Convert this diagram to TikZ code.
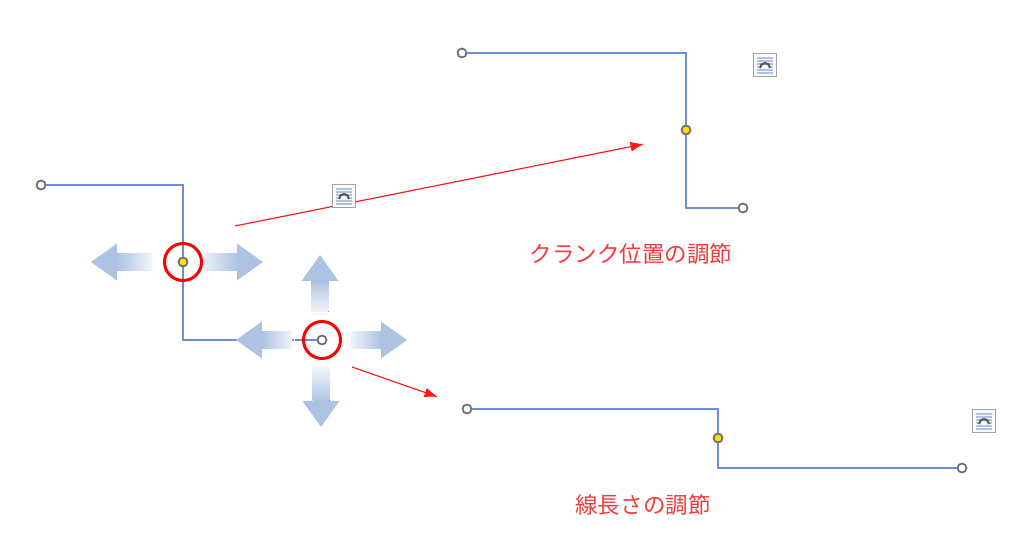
\documentclass[tikz,border=0pt]{standalone}
\usepackage{fontspec}
\setmainfont{Noto Sans CJK JP}
\usetikzlibrary{arrows.meta}
\definecolor{wireblue}{HTML}{6A8FD3}
\definecolor{fadeblue}{HTML}{AEC3E4}
\definecolor{handlegray}{HTML}{6E6E6E}
\definecolor{handleyellow}{HTML}{FFE000}
\definecolor{notered}{HTML}{F23B3B}
\tikzset{
	wire/.style={wireblue, line width=0.75pt},
	endhandle/.style={circle, draw=handlegray, fill=white, line width=0.5pt, inner sep=0pt, minimum size=0.09cm},
	midhandle/.style={endhandle, fill=handleyellow},
	mark ring/.style={red, line width=0.85pt},
	pointer/.style={red!90!white, line width=0.33pt, -{Latex[length=0.135cm,width=0.1cm]}},
	note/.style={text=notered, font=\fontsize{6.4pt}{7pt}\selectfont, inner sep=0pt},
	layouticon/.pic={
		\draw[handlegray!65, fill=blue!2, line width=0.4pt] (-11.5,-11.5) rectangle (11.5,11.5);
		\foreach \y in {-7,-4,-1,5,8}
			\draw[fadeblue, line width=0.45pt] (-8,\y) -- (8,\y);
		\draw[fadeblue, line width=0.45pt] (-8,2) -- (-6,2) (6,2) -- (8,2);
		\draw[black!65, line width=0.6pt] (-5,3) arc [start angle=180, end angle=360, radius=5];
	},
}
\begin{document}
\begin{tikzpicture}[x=0.01cm, y=-0.01cm]
	\useasboundingbox (0,0) rectangle (1024,534);
	% handles
	\node[endhandle] (startL) at (41,185) {};
	\node[midhandle] (midL) at (183,262) {};
	\node[endhandle] (endL) at (322,340) {};
	\node[endhandle] (startT) at (462,53) {};
	\node[midhandle] (midT) at (686,130) {};
	\node[endhandle] (endT) at (743,208) {};
	\node[endhandle] (startB) at (467,409) {};
	\node[midhandle] (midB) at (718,438) {};
	\node[endhandle] (endB) at (962,468) {};
	% wires
	\draw[wire] (startL) -| (midL);
	\draw[wire] (midL) |- (endL);
	\draw[wire] (startT) -| (midT);
	\draw[wire] (midT) |- (endT);
	\draw[wire] (startB) -| (midB);
	\draw[wire] (midB) |- (endB);
	% move arrows: x / y / angle / shaft length
	\foreach \x/\y/\a/\len in {152/262/90/35, 200/262/-90/37, 292/340/90/30, 350/340/-90/31, 320/312/0/31, 321/368/180/33}
	{
		\begin{scope}[shift={(\x,\y)}, rotate=\a]
			\fill[shading=axis, top color=fadeblue, bottom color=fadeblue!18, shading angle=\a] (-8.5,0) rectangle (8.5,-\len);
			\fill[fadeblue!14] (-8.5,1.5) rectangle (8.5,3);
			\fill[fadeblue] (-18.5,-\len) -- (0,-\len-26) -- (18.5,-\len) -- cycle;
		\end{scope}
	}
	% red rings
	\node[circle, draw, mark ring, inner sep=0pt, minimum size=0.37cm] (ringL) at (midL) {};
	\node[circle, draw, mark ring, inner sep=0pt, minimum size=0.37cm] (ringR) at (endL) {};
	% pointers
	\coordinate (crankFrom) at (235,226);
	\coordinate (crankTo) at (644,144);
	\coordinate (lengthFrom) at (352,367);
	\coordinate (lengthTo) at (438,397);
	\draw[pointer] (crankFrom) -- (crankTo);
	\draw[pointer] (lengthFrom) -- (lengthTo);
	% layout icons
	\pic (iconL) at (344,196) {layouticon};
	\pic (iconT) at (765,65) {layouticon};
	\pic (iconB) at (984,421) {layouticon};
	% labels
	\node[note] (crankNote) at (631,254) {クランク位置の調節};
	\node[note] (lengthNote) at (643,505) {線長さの調節};
\end{tikzpicture}
\end{document}
